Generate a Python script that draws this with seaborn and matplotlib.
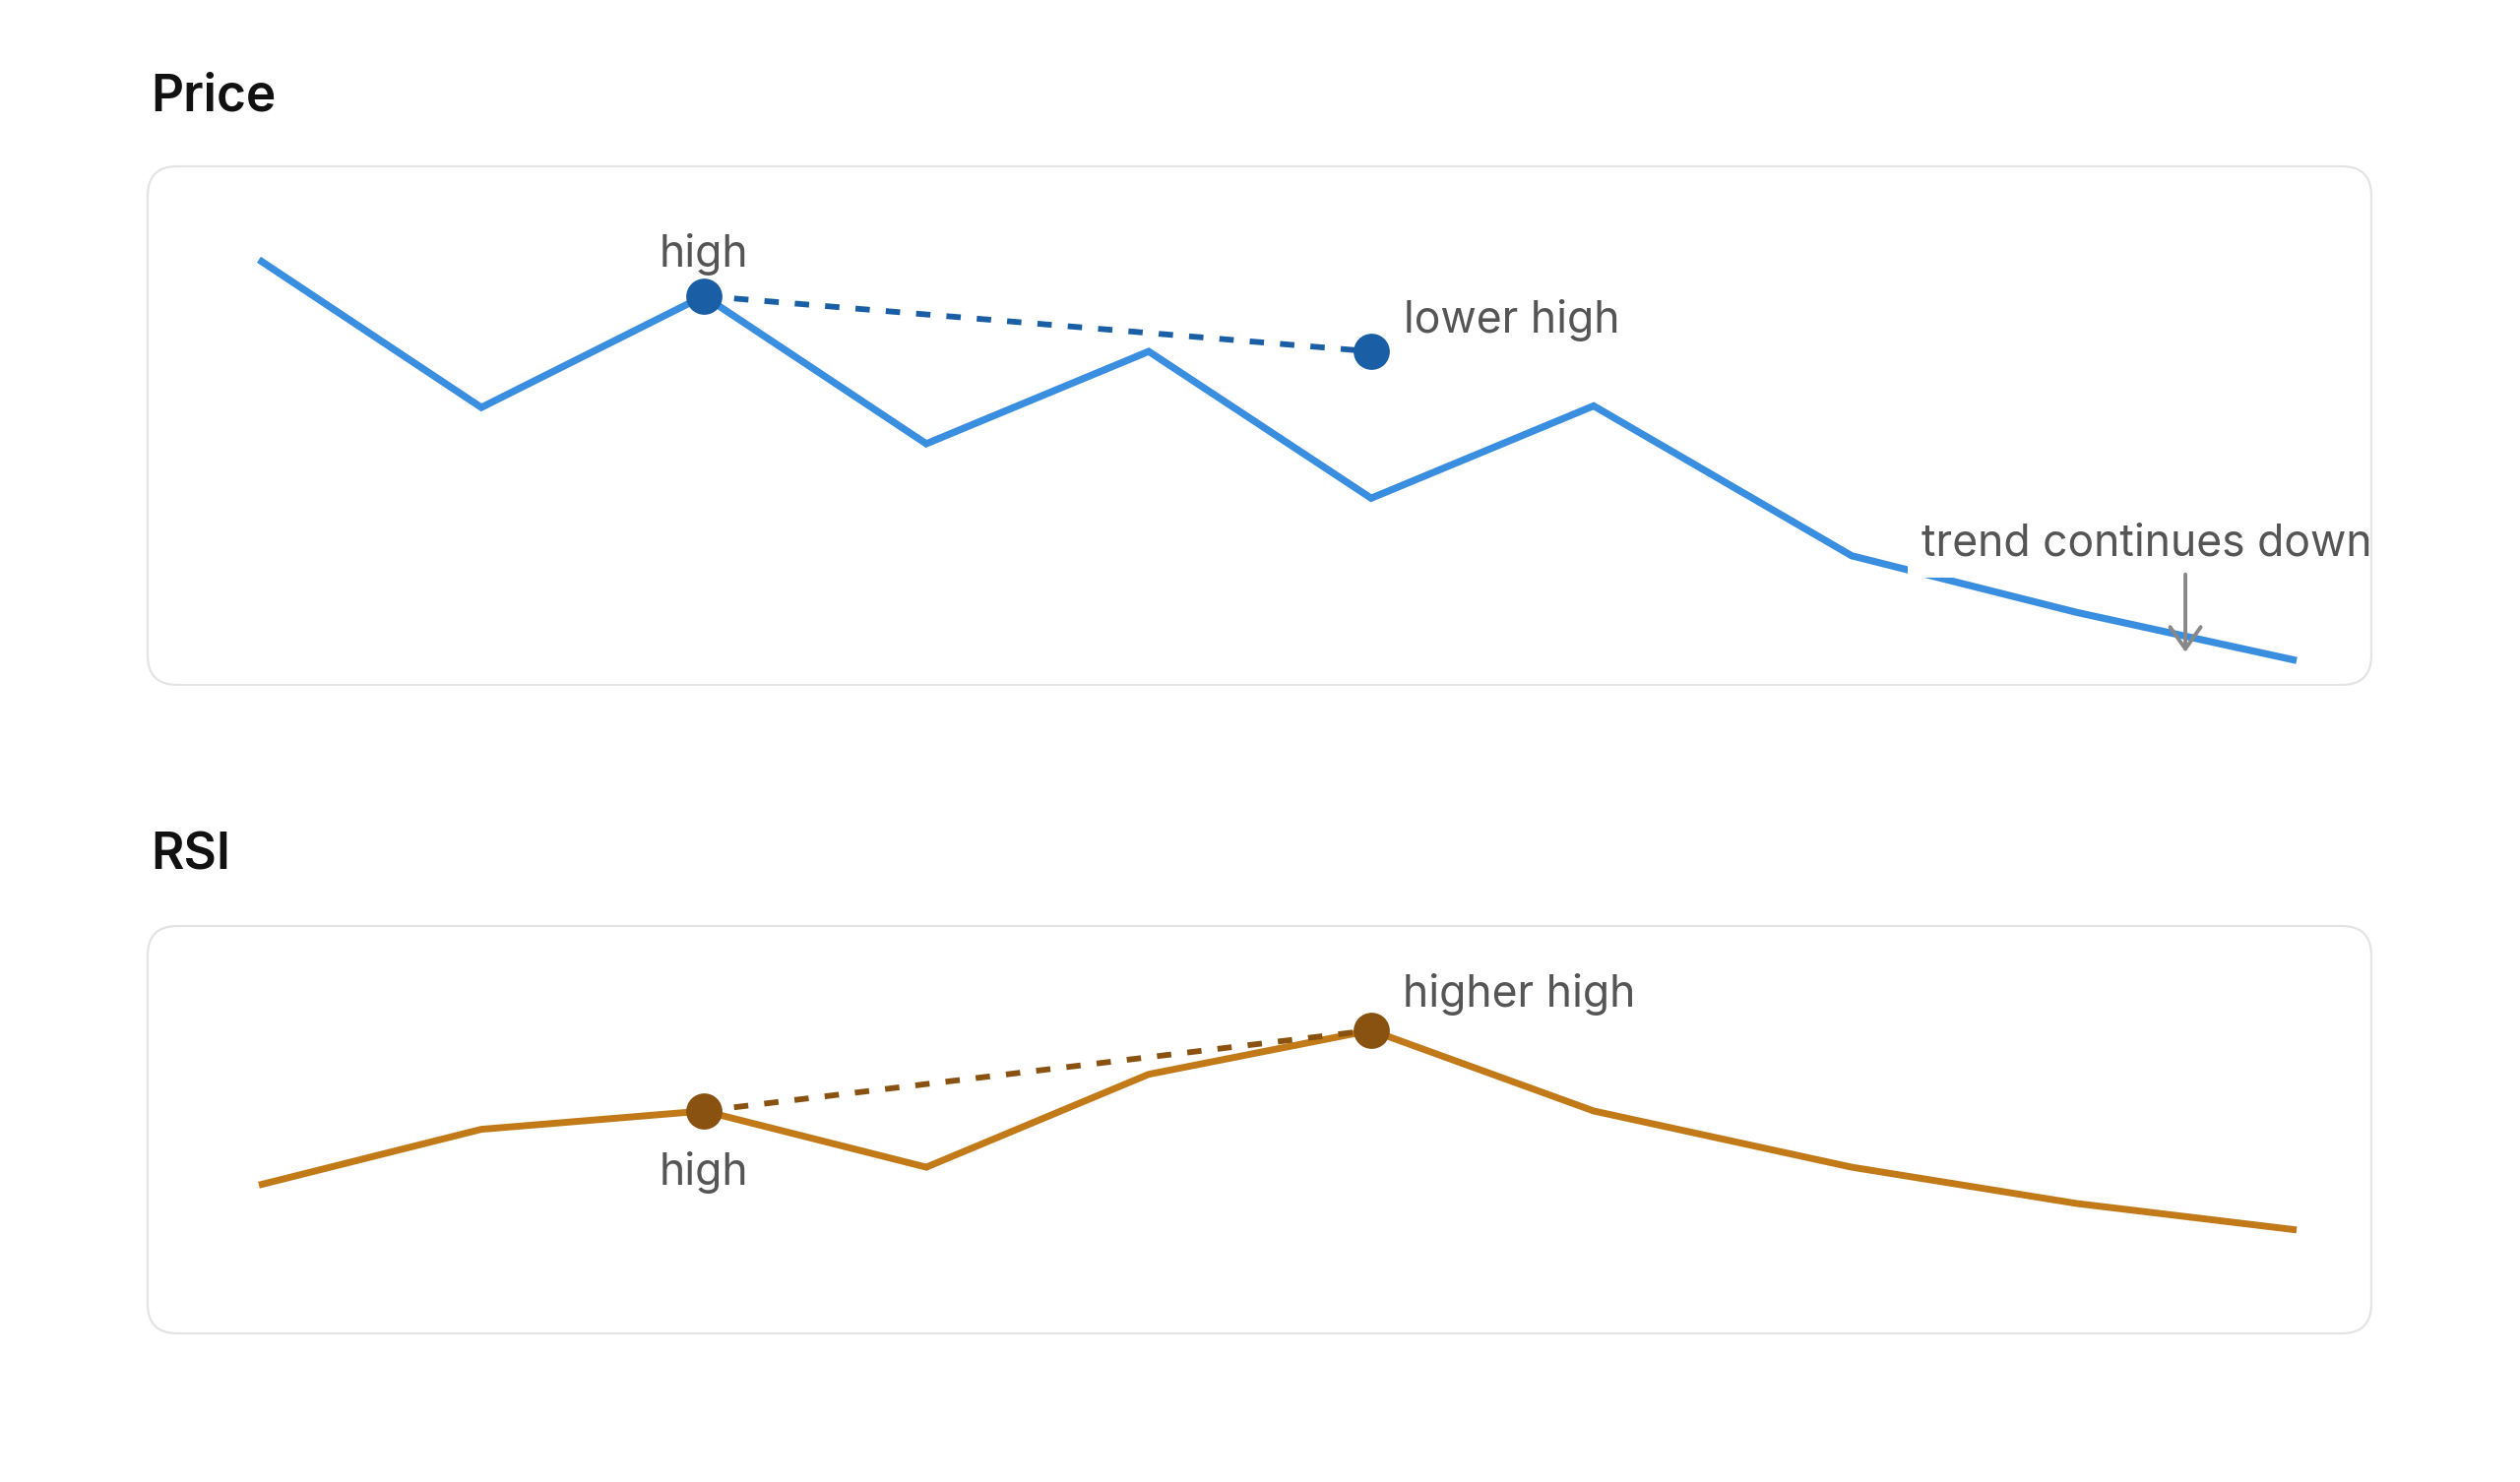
import matplotlib
matplotlib.use("Agg")
import matplotlib.pyplot as plt
from matplotlib.patches import FancyBboxPatch
from matplotlib.transforms import IdentityTransform
import seaborn as sns

# ---- data ----
x_pos = [0, 1, 2, 3, 4, 5, 6, 7.16, 8.17, 9.16]
price = [82.0, 53.5, 75.0, 46.5, 64.3, 36.0, 53.8, 24.9, 14.0, 4.7]
rsi = [36.4, 50.1, 54.6, 40.8, 63.6, 74.4, 54.6, 40.8, 31.9, 25.4]

price_high_x = [2, 5]
price_high_y = [75.0, 64.3]
rsi_high_x = [2, 5]
rsi_high_y = [54.6, 74.4]

panel_titles = ["Price", "RSI"]
price_labels = ["high", "lower high"]
rsi_labels = ["high", "higher high"]
trend_label = "trend continues down"

# ---- style ----
sns.set_theme(style="white")
plt.rcParams["font.family"] = ["Inter", "DejaVu Sans"]

W, H, DPI = 2560, 1506, 200
fig = plt.figure(figsize=(W / DPI, H / DPI), dpi=DPI)
fig.patch.set_facecolor("white")

LINE_BLUE = "#3a8ee0"
DOT_BLUE = "#1a5fa6"
LINE_ORANGE = "#c27a18"
DOT_BROWN = "#8a5210"
TEXT_GRAY = "#555555"

left_px, right_px = 150, 2409
panels = [(169, 696), (941, 1355)]  # top, bottom in pixels from top

axes = []
for top, bottom in panels:
    ax = fig.add_axes([left_px / W, (H - bottom) / H,
                       (right_px - left_px) / W, (bottom - top) / H])
    ax.set_xlim(-0.5, 9.496)
    ax.set_ylim(0, 100)
    ax.set_axis_off()
    box = FancyBboxPatch((left_px, H - bottom), right_px - left_px, bottom - top,
                         boxstyle="round,pad=0,rounding_size=30",
                         transform=IdentityTransform(), facecolor="none",
                         edgecolor="#e4e4e4", linewidth=0.8, zorder=10,
                         clip_on=False)
    ax.add_artist(box)
    axes.append(ax)

ax_p, ax_r = axes

title_baselines = [112.5, 884]
for t, yb in zip(panel_titles, title_baselines):
    fig.text(153 / W, 1 - yb / H, t, fontsize=18.5, fontweight="semibold",
             color="#111111", va="baseline", ha="left")

# ---- price panel ----
sns.lineplot(x=x_pos, y=price, ax=ax_p, color=LINE_BLUE, linewidth=2.6,
             zorder=2, solid_joinstyle="miter", solid_capstyle="butt")
sns.lineplot(x=price_high_x, y=price_high_y, ax=ax_p, color=DOT_BLUE,
             linewidth=2.1, linestyle=(0, (2.5, 2.8)), zorder=3)
sns.scatterplot(x=price_high_x, y=price_high_y, ax=ax_p, color=DOT_BLUE,
                s=175, linewidth=0, zorder=4)

ax_p.annotate(price_labels[0], xy=(price_high_x[0], price_high_y[0]),
              xytext=(0, 10.8), textcoords="offset points", ha="center",
              va="baseline", fontsize=16, color=TEXT_GRAY)
ax_p.annotate(price_labels[1], xy=(price_high_x[1], price_high_y[1]),
              xytext=(11.9, 6.8), textcoords="offset points", ha="left",
              va="baseline", fontsize=16, color=TEXT_GRAY)

ax_p.text(7.473, 24.9, trend_label, ha="left", va="baseline", fontsize=16,
          color=TEXT_GRAY, zorder=5,
          bbox=dict(boxstyle="square,pad=0.3", facecolor="white", edgecolor="none"))
ax_p.annotate("", xy=(8.66, 6.3), xytext=(8.66, 21.3),
              arrowprops=dict(arrowstyle="->,head_length=0.4,head_width=0.28",
                              color="#888888", lw=1.4, shrinkA=0, shrinkB=0,
                              mutation_scale=20), zorder=6)

# ---- RSI panel ----
sns.lineplot(x=x_pos, y=rsi, ax=ax_r, color=LINE_ORANGE, linewidth=2.5,
             zorder=2, solid_joinstyle="miter", solid_capstyle="butt")
sns.lineplot(x=rsi_high_x, y=rsi_high_y, ax=ax_r, color=DOT_BROWN,
             linewidth=2.1, linestyle=(0, (2.5, 2.8)), zorder=3)
sns.scatterplot(x=rsi_high_x, y=rsi_high_y, ax=ax_r, color=DOT_BROWN,
                s=175, linewidth=0, zorder=4)

ax_r.annotate(rsi_labels[0], xy=(rsi_high_x[0], rsi_high_y[0]),
              xytext=(0, -27), textcoords="offset points", ha="center",
              va="baseline", fontsize=16, color=TEXT_GRAY)
ax_r.annotate(rsi_labels[1], xy=(rsi_high_x[1], rsi_high_y[1]),
              xytext=(11.5, 8.6), textcoords="offset points", ha="left",
              va="baseline", fontsize=16, color=TEXT_GRAY)

for ax in axes:
    leg = ax.get_legend()
    if leg is not None:
        leg.remove()

fig.savefig("out.png", dpi=DPI, facecolor="white")
